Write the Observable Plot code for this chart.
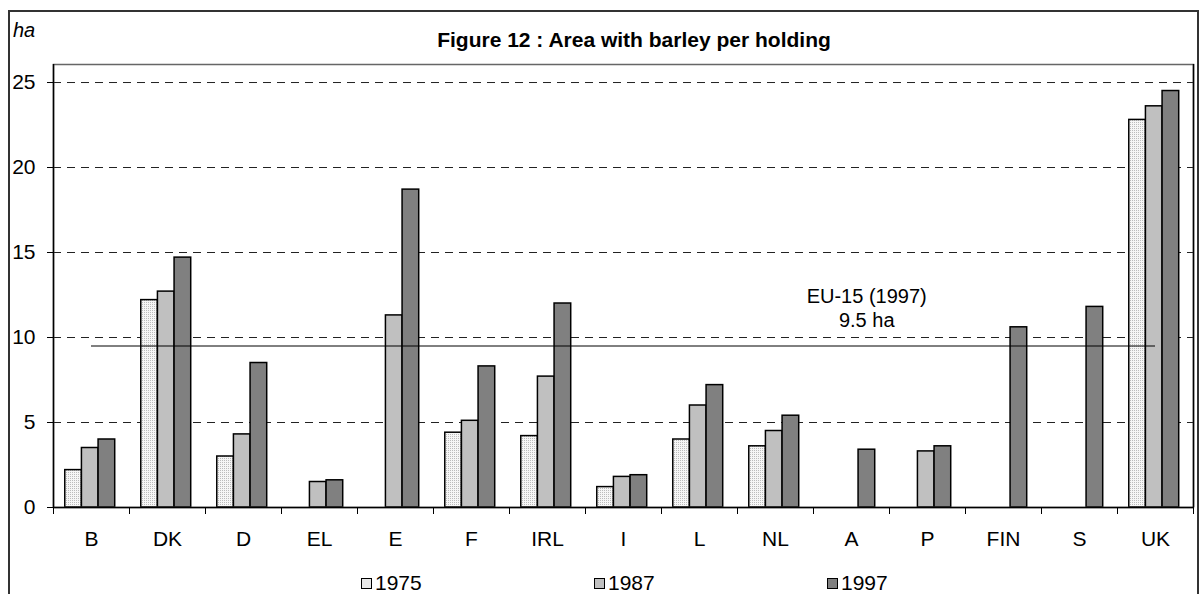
<!DOCTYPE html>
<html>
<head>
<meta charset="utf-8">
<script src="https://cdn.jsdelivr.net/npm/d3@7"></script>
<script src="https://cdn.jsdelivr.net/npm/@observablehq/plot@0.6"></script>
<style>
  html, body { margin: 0; padding: 0; background: #fff; }
  #wrap { position: relative; width: 1201px; height: 594px; overflow: hidden; font-family: "Liberation Sans", Arial, sans-serif; color: #000; }
  #outer { position: absolute; left: 8px; top: 10px; width: 1191px; height: 600px; border: 2px solid #333; border-bottom: none; box-sizing: border-box; }
  #unit { position: absolute; left: 13px; top: 19px; font-size: 20px; font-style: italic; }
  #title { position: absolute; left: 0; width: 1268px; text-align: center; top: 28px; font-size: 21px; font-weight: bold; }
  #chart { position: absolute; left: 0; top: 0; }
  #legend { position: absolute; top: 571px; left: 361px; display: flex; font-size: 21px; }
  .item { display: flex; align-items: center; width: 233px; }
  .sw { width: 9px; height: 9px; border: 1px solid #000; margin-right: 3px; }
</style>
</head>
<body>
<div id="wrap">
  <div id="outer"></div>
  <div id="unit">ha</div>
  <div id="title">Figure 12 : Area with barley per holding</div>
  <div id="chart"></div>
  <div id="legend"></div>
</div>
<script>
const countries = ["B","DK","D","EL","E","F","IRL","I","L","NL","A","P","FIN","S","UK"];
const years = ["1975","1987","1997"];
const v1975 = [2.2, 12.2, 3.0, null, null, 4.4, 4.2, 1.2, 4.0, 3.6, null, null, null, null, 22.8];
const v1987 = [3.5, 12.7, 4.3, 1.5, 11.3, 5.1, 7.7, 1.8, 6.0, 4.5, null, 3.3, null, null, 23.6];
const v1997 = [4.0, 14.7, 8.5, 1.6, 18.7, 8.3, 12.0, 1.9, 7.2, 5.4, 3.4, 3.6, 10.6, 11.8, 24.5];
const yTicks = [0, 5, 10, 15, 20, 25];
const euValue = 9.5;
const euLabel = "EU-15 (1997)\n9.5 ha";
const fills = {"1975": "url(#dots)", "1987": "#c0c0c0", "1997": "#808080"};

// layout of bars inside each category slot (fractions of a slot)
const groupStart = 0.155, barWidth = 0.219;

const series = [v1975, v1987, v1997];
const rows = [];
series.forEach((vals, k) => {
  vals.forEach((v, i) => {
    if (v != null) rows.push({country: countries[i], year: years[k], value: v,
      x1: i + groupStart + k * barWidth, x2: i + groupStart + (k + 1) * barWidth});
  });
});

const svg = Plot.plot({
  width: 1201,
  height: 594,
  marginLeft: 53,
  marginRight: 8,
  marginTop: 64,
  marginBottom: 87,
  style: {fontFamily: "'Liberation Sans', Arial, sans-serif", fontSize: "20px", background: "transparent", overflow: "visible"},
  x: {type: "linear", domain: [0, countries.length], axis: null, label: null},
  y: {domain: [0, 26.06], axis: null, label: null},
  marks: [
    Plot.ruleY(yTicks.filter(d => d > 0), {stroke: "#222", strokeDasharray: "8,6", strokeWidth: 1}),
    Plot.rectY(rows, {x1: "x1", x2: "x2", y: "value", fill: d => fills[d.year], stroke: "#000", strokeWidth: 1.5}),
    Plot.ruleY([euValue], {x1: 0.5, x2: countries.length - 0.5, stroke: "#000", strokeWidth: 1}),
    Plot.text([euLabel], {x: 10.7, y: 11.8, text: d => d, fontSize: 20, lineHeight: 1.2, textAnchor: "middle", fill: "#000"}),
    Plot.frame({stroke: "#666", strokeWidth: 1.5}),
    Plot.ruleX([0], {stroke: "#000", strokeWidth: 1.5}),
    Plot.ruleX([countries.length], {stroke: "#000", strokeWidth: 1.5}),
    Plot.ruleY([0], {stroke: "#000", strokeWidth: 1.5}),
    Plot.axisY({ticks: yTicks, tickSize: 6, tickPadding: 12, fontSize: 21, stroke: "#000", fill: "#000", label: null}),
    Plot.axisX({ticks: d3.range(countries.length + 1), tickSize: 7, tickFormat: () => "", stroke: "#000", label: null}),
    Plot.axisX({ticks: countries.map((c, i) => i + 0.5), tickSize: 0, tickPadding: 24, fontSize: 21, fill: "#000", label: null,
      tickFormat: d => countries[Math.floor(d)]})
  ]
});

// dotted texture for the 1975 bars
const defs = d3.select(svg).insert("defs", ":first-child");
const pat = defs.append("pattern").attr("id", "dots").attr("patternUnits", "userSpaceOnUse")
  .attr("width", 2).attr("height", 2);
pat.append("rect").attr("width", 2).attr("height", 2).attr("fill", "#f6f6f6");
pat.append("rect").attr("width", 1).attr("height", 1).attr("fill", "#bcbcbc");

document.getElementById("chart").appendChild(svg);

const legend = d3.select("#legend");
years.forEach(y => {
  const it = legend.append("div").attr("class", "item");
  it.append("div").attr("class", "sw").style("background", y === "1975" ? "#e8e8e8" : fills[y]);
  it.append("span").text(y);
});
</script>
</body>
</html>
